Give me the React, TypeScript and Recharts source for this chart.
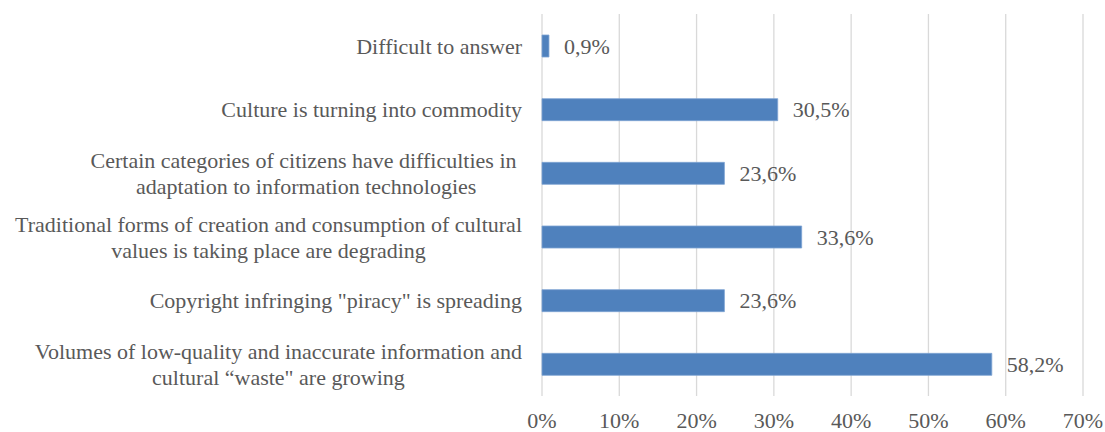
import { BarChart, Bar, XAxis, YAxis, CartesianGrid, LabelList } from 'recharts'

// ─── Data ────────────────────────────────────────────────────────────────────

const categories = [
  'Difficult to answer',
  'Culture is turning into commodity',
  'Certain categories of citizens have difficulties in \nadaptation to information technologies',
  'Traditional forms of creation and consumption of cultural\nvalues is taking place are degrading',
  'Copyright infringing "piracy" is spreading',
  'Volumes of low-quality and inaccurate information and\ncultural \u201cwaste" are growing',
]

const shares = [0.9, 30.5, 23.6, 33.6, 23.6, 58.2]

const xTicks = [0, 10, 20, 30, 40, 50, 60, 70]

const data = categories.map((name, i) => ({ name, value: shares[i] }))

// ─── Styling ─────────────────────────────────────────────────────────────────

const FONT = "'Liberation Serif', 'Times New Roman', serif"
const FONT_SIZE = 22
const TEXT = '#595959'
const BAR = '#4f81bd'
const GRID = '#d9d9d9'
const LINE_H = 26

function fmtPct(v: number): string {
  return `${v.toFixed(1).replace('.', ',')}%`
}

let ctx: CanvasRenderingContext2D | null = null
function textWidth(s: string): number {
  if (!ctx) {
    ctx = document.createElement('canvas').getContext('2d')
    if (ctx) ctx.font = `${FONT_SIZE}px ${FONT}`
  }
  return ctx ? ctx.measureText(s).width : s.length * FONT_SIZE * 0.45
}

function CategoryTick({ x, y, payload }: any) {
  const lines: string[] = String(payload.value).split('\n')
  const right = x - 12
  if (lines.length === 1) {
    return (
      <text x={right} y={y} dy="0.35em" textAnchor="end" fill={TEXT} fontFamily={FONT} fontSize={FONT_SIZE}>
        {lines[0]}
      </text>
    )
  }
  const block = Math.max(...lines.map(textWidth))
  const cx = right - block / 2
  const top = y - ((lines.length - 1) * LINE_H) / 2
  return (
    <text x={cx} y={top} textAnchor="middle" fill={TEXT} fontFamily={FONT} fontSize={FONT_SIZE}>
      {lines.map((l, i) => (
        <tspan key={i} x={cx} y={top + i * LINE_H} dy="0.35em">
          {l}
        </tspan>
      ))}
    </text>
  )
}

function PctTick({ x, y, payload }: any) {
  return (
    <text x={x} y={y + 16} dy="0.35em" textAnchor="middle" fill={TEXT} fontFamily={FONT} fontSize={FONT_SIZE}>
      {`${payload.value}%`}
    </text>
  )
}

export default function App() {
  return (
    <div style={{ position: 'absolute', left: 0, top: 0, background: '#fff' }}>
      <BarChart
        width={1105}
        height={432}
        data={data}
        layout="vertical"
        margin={{ top: 14, right: 22, bottom: 0, left: 0 }}
        barSize={22}
      >
        <CartesianGrid horizontal={false} stroke={GRID} strokeWidth={1.3} />
        <XAxis
          type="number"
          domain={[0, 70]}
          ticks={xTicks}
          axisLine={false}
          tickLine={false}
          height={36}
          tick={<PctTick />}
          interval={0}
        />
        <YAxis
          type="category"
          dataKey="name"
          width={542}
          axisLine={false}
          tickLine={false}
          tick={<CategoryTick />}
          interval={0}
        />
        <Bar dataKey="value" fill={BAR} stroke="#7ea3d3" strokeWidth={0.8} isAnimationActive={false}>
          <LabelList
            dataKey="value"
            position="right"
            offset={15}
            formatter={(v: any) => fmtPct(Number(v))}
            style={{ fill: TEXT, fontFamily: FONT, fontSize: FONT_SIZE }}
          />
        </Bar>
      </BarChart>
    </div>
  )
}
